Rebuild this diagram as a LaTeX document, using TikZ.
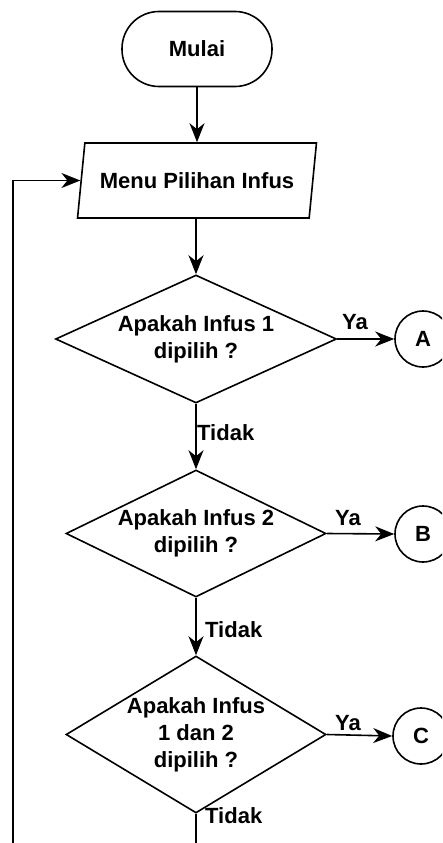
\documentclass[tikz,border=0pt]{standalone}
\usepackage{fontspec}
\setmainfont{Liberation Sans}
\usetikzlibrary{shapes.geometric,arrows.meta}
\begin{document}
\begin{tikzpicture}[x=1pt,y=-1pt,
  every node/.style={font=\fontsize{22}{27}\selectfont\bfseries},
  shape line/.style={draw, line width=1.6pt},
  term/.style={shape line, rectangle, rounded corners=37pt, minimum width=150pt, minimum height=75pt},
  io/.style={shape line, trapezium, trapezium left angle=74, trapezium right angle=106,
    trapezium stretches=true, minimum width=239pt, minimum height=75pt},
  dec/.style={shape line, diamond, inner sep=0pt},
  conn/.style={shape line, circle, inner sep=0pt, minimum size=56pt},
  lbl/.style={inner sep=0pt, align=center},
  flow/.style={line width=1.6pt, -{Stealth[length=19pt,width=15pt,inset=6pt]}}
]
\useasboundingbox (0,0) rectangle (442,843);
\clip (0,0) rectangle (442,843);

% main column
\node[term] (start) at (197,49) {Mulai};
\node[io] (menu) at (197,180.5) {Menu Pilihan Infus};

\node[dec, minimum width=281pt, minimum height=128pt] (d1) at (196,339) {};
\node[lbl] (d1txt) at (d1.center) {Apakah Infus 1\\dipilih ?};

\node[dec, minimum width=260pt, minimum height=127pt] (d2) at (196,533.5) {};
\node[lbl] (d2txt) at (d2.center) {Apakah Infus 2\\dipilih ?};

\node[dec, minimum width=260pt, minimum height=157pt] (d3) at (196,734.5) {};
\node[lbl] (d3txt) at (d3.center) {Apakah Infus\\1 dan 2\\dipilih ?};

% off-page connectors
\node[conn] (A) at (423,339) {A};
\node[conn] (B) at (423,534) {B};
\node[conn] (C) at (421,736) {C};

% flow lines
\draw[flow] (start.south) -- (start.south |- menu.north);
\draw[flow] (menu.south -| d1.north) -- (d1.north);
\draw[flow] (d1.south) -- (d2.north);
\draw[flow] (d2.south) -- (d3.north);
\draw[flow] (d1.east) -- (A.west);
\draw[flow] (d2.east) -- (B.west);
\draw[flow] (d3.east) -- (C.west);

% return path to the menu
\coordinate (lb) at (196,870);
\coordinate (ll) at (13,870);
\draw[flow] (d3.south) -- (lb) -- (ll) |- (menu.west);

% branch labels
\node[lbl] (ya1) at (355,322) {Ya};
\node[lbl] (ya2) at (348,518) {Ya};
\node[lbl] (ya3) at (348,723) {Ya};
\node[lbl, anchor=west] (no1) at (197,433) {Tidak};
\node[lbl, anchor=west] (no2) at (205,630) {Tidak};
\node[lbl, anchor=west] (no3) at (205,816) {Tidak};
\end{tikzpicture}
\end{document}
